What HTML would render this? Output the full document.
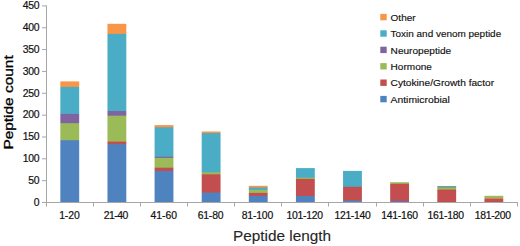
<!DOCTYPE html>
<html><head><meta charset="utf-8"><style>
html,body{margin:0;padding:0;background:#fff;}
svg{display:block;}
text{font-family:"Liberation Sans",sans-serif;}
.t{font-size:10.4px;fill:#111;stroke:#111;stroke-width:0.2px;}
.l{font-size:9.7px;fill:#111;stroke:#111;stroke-width:0.15px;}
.ti{font-size:14px;fill:#262626;stroke:#262626;stroke-width:0.1px;}
</style></head><body>
<svg width="520" height="246" viewBox="0 0 520 246">
<rect width="520" height="246" fill="#fff"/>
<defs><linearGradient id="g0" gradientUnits="userSpaceOnUse" x1="0" y1="81.40" x2="0" y2="202.00"><stop offset="0.00000" stop-color="#F79646"/><stop offset="0.04146" stop-color="#F79646"/><stop offset="0.04975" stop-color="#4BACC6"/><stop offset="0.26534" stop-color="#4BACC6"/><stop offset="0.27363" stop-color="#8064A2"/><stop offset="0.34245" stop-color="#8064A2"/><stop offset="0.35075" stop-color="#9BBB59"/><stop offset="0.48342" stop-color="#9BBB59"/><stop offset="0.49171" stop-color="#4F83BF"/><stop offset="1.00000" stop-color="#4F83BF"/></linearGradient><linearGradient id="g1" gradientUnits="userSpaceOnUse" x1="0" y1="23.80" x2="0" y2="202.00"><stop offset="0.00000" stop-color="#F79646"/><stop offset="0.05387" stop-color="#F79646"/><stop offset="0.05948" stop-color="#4BACC6"/><stop offset="0.48653" stop-color="#4BACC6"/><stop offset="0.49214" stop-color="#8064A2"/><stop offset="0.51291" stop-color="#8064A2"/><stop offset="0.51852" stop-color="#9BBB59"/><stop offset="0.65825" stop-color="#9BBB59"/><stop offset="0.66386" stop-color="#C34E4F"/><stop offset="0.67284" stop-color="#C34E4F"/><stop offset="0.67845" stop-color="#4F83BF"/><stop offset="1.00000" stop-color="#4F83BF"/></linearGradient><linearGradient id="g2" gradientUnits="userSpaceOnUse" x1="0" y1="125.10" x2="0" y2="202.00"><stop offset="0.00000" stop-color="#F79646"/><stop offset="0.02211" stop-color="#F79646"/><stop offset="0.03511" stop-color="#4BACC6"/><stop offset="0.40442" stop-color="#4BACC6"/><stop offset="0.41743" stop-color="#8064A2"/><stop offset="0.42003" stop-color="#8064A2"/><stop offset="0.43303" stop-color="#9BBB59"/><stop offset="0.54746" stop-color="#9BBB59"/><stop offset="0.56047" stop-color="#C34E4F"/><stop offset="0.59038" stop-color="#C34E4F"/><stop offset="0.60338" stop-color="#4F83BF"/><stop offset="1.00000" stop-color="#4F83BF"/></linearGradient><linearGradient id="g3" gradientUnits="userSpaceOnUse" x1="0" y1="131.50" x2="0" y2="202.00"><stop offset="0.00000" stop-color="#F79646"/><stop offset="0.01560" stop-color="#F79646"/><stop offset="0.02979" stop-color="#4BACC6"/><stop offset="0.57163" stop-color="#4BACC6"/><stop offset="0.58582" stop-color="#9BBB59"/><stop offset="0.60000" stop-color="#9BBB59"/><stop offset="0.61418" stop-color="#C34E4F"/><stop offset="0.85957" stop-color="#C34E4F"/><stop offset="0.87376" stop-color="#4F83BF"/><stop offset="1.00000" stop-color="#4F83BF"/></linearGradient><linearGradient id="g4" gradientUnits="userSpaceOnUse" x1="0" y1="185.80" x2="0" y2="202.00"><stop offset="0.00000" stop-color="#F79646"/><stop offset="0.07407" stop-color="#F79646"/><stop offset="0.13580" stop-color="#4BACC6"/><stop offset="0.22222" stop-color="#4BACC6"/><stop offset="0.28395" stop-color="#9BBB59"/><stop offset="0.40741" stop-color="#9BBB59"/><stop offset="0.46914" stop-color="#C34E4F"/><stop offset="0.59259" stop-color="#C34E4F"/><stop offset="0.65432" stop-color="#4F83BF"/><stop offset="1.00000" stop-color="#4F83BF"/></linearGradient><linearGradient id="g5" gradientUnits="userSpaceOnUse" x1="0" y1="168.10" x2="0" y2="202.00"><stop offset="0.00000" stop-color="#4BACC6"/><stop offset="0.26844" stop-color="#4BACC6"/><stop offset="0.29794" stop-color="#9BBB59"/><stop offset="0.30383" stop-color="#9BBB59"/><stop offset="0.33333" stop-color="#C34E4F"/><stop offset="0.80826" stop-color="#C34E4F"/><stop offset="0.83776" stop-color="#4F83BF"/><stop offset="1.00000" stop-color="#4F83BF"/></linearGradient><linearGradient id="g6" gradientUnits="userSpaceOnUse" x1="0" y1="170.90" x2="0" y2="202.00"><stop offset="0.00000" stop-color="#4BACC6"/><stop offset="0.49518" stop-color="#4BACC6"/><stop offset="0.52733" stop-color="#C34E4F"/><stop offset="0.93569" stop-color="#C34E4F"/><stop offset="0.96785" stop-color="#4F83BF"/><stop offset="1.00000" stop-color="#4F83BF"/></linearGradient><linearGradient id="g7" gradientUnits="userSpaceOnUse" x1="0" y1="182.20" x2="0" y2="202.00"><stop offset="0.00000" stop-color="#9BBB59"/><stop offset="0.05556" stop-color="#9BBB59"/><stop offset="0.10606" stop-color="#C34E4F"/><stop offset="0.90404" stop-color="#C34E4F"/><stop offset="0.95455" stop-color="#8064A2"/><stop offset="1.00000" stop-color="#8064A2"/></linearGradient><linearGradient id="g8" gradientUnits="userSpaceOnUse" x1="0" y1="186.00" x2="0" y2="202.00"><stop offset="0.00000" stop-color="#6FA096"/><stop offset="0.07812" stop-color="#6FA096"/><stop offset="0.14062" stop-color="#9BBB59"/><stop offset="0.19375" stop-color="#9BBB59"/><stop offset="0.25625" stop-color="#C34E4F"/><stop offset="1.00000" stop-color="#C34E4F"/></linearGradient><linearGradient id="g9" gradientUnits="userSpaceOnUse" x1="0" y1="195.80" x2="0" y2="202.00"><stop offset="0.00000" stop-color="#9BBB59"/><stop offset="0.25806" stop-color="#9BBB59"/><stop offset="0.41935" stop-color="#C98A5A"/><stop offset="0.43548" stop-color="#C98A5A"/><stop offset="0.59677" stop-color="#C34E4F"/><stop offset="1.00000" stop-color="#C34E4F"/></linearGradient></defs>
<rect x="60.34" y="81.40" width="18.85" height="120.60" fill="url(#g0)"/>
<rect x="107.46" y="23.80" width="18.85" height="178.20" fill="url(#g1)"/>
<rect x="154.58" y="125.10" width="18.85" height="76.90" fill="url(#g2)"/>
<rect x="201.70" y="131.50" width="18.85" height="70.50" fill="url(#g3)"/>
<rect x="248.82" y="185.80" width="18.85" height="16.20" fill="url(#g4)"/>
<rect x="295.94" y="168.10" width="18.85" height="33.90" fill="url(#g5)"/>
<rect x="343.06" y="170.90" width="18.85" height="31.10" fill="url(#g6)"/>
<rect x="390.18" y="182.20" width="18.85" height="19.80" fill="url(#g7)"/>
<rect x="437.30" y="186.00" width="18.85" height="16.00" fill="url(#g8)"/>
<rect x="484.42" y="195.80" width="18.85" height="6.20" fill="url(#g9)"/>
<line x1="46.5" y1="5.5" x2="46.5" y2="206" stroke="#a6a6a6" stroke-width="1"/>
<line x1="46" y1="202.5" x2="518" y2="202.5" stroke="#a6a6a6" stroke-width="1"/>
<line x1="42" y1="202.50" x2="46.5" y2="202.50" stroke="#a6a6a6" stroke-width="1"/>
<line x1="42" y1="180.66" x2="46.5" y2="180.66" stroke="#a6a6a6" stroke-width="1"/>
<line x1="42" y1="158.81" x2="46.5" y2="158.81" stroke="#a6a6a6" stroke-width="1"/>
<line x1="42" y1="136.97" x2="46.5" y2="136.97" stroke="#a6a6a6" stroke-width="1"/>
<line x1="42" y1="115.12" x2="46.5" y2="115.12" stroke="#a6a6a6" stroke-width="1"/>
<line x1="42" y1="93.28" x2="46.5" y2="93.28" stroke="#a6a6a6" stroke-width="1"/>
<line x1="42" y1="71.43" x2="46.5" y2="71.43" stroke="#a6a6a6" stroke-width="1"/>
<line x1="42" y1="49.59" x2="46.5" y2="49.59" stroke="#a6a6a6" stroke-width="1"/>
<line x1="42" y1="27.74" x2="46.5" y2="27.74" stroke="#a6a6a6" stroke-width="1"/>
<line x1="42" y1="5.90" x2="46.5" y2="5.90" stroke="#a6a6a6" stroke-width="1"/>
<line x1="46.50" y1="202.5" x2="46.50" y2="206.5" stroke="#a6a6a6" stroke-width="1"/>
<line x1="93.50" y1="202.5" x2="93.50" y2="206.5" stroke="#a6a6a6" stroke-width="1"/>
<line x1="140.50" y1="202.5" x2="140.50" y2="206.5" stroke="#a6a6a6" stroke-width="1"/>
<line x1="187.50" y1="202.5" x2="187.50" y2="206.5" stroke="#a6a6a6" stroke-width="1"/>
<line x1="234.50" y1="202.5" x2="234.50" y2="206.5" stroke="#a6a6a6" stroke-width="1"/>
<line x1="281.50" y1="202.5" x2="281.50" y2="206.5" stroke="#a6a6a6" stroke-width="1"/>
<line x1="328.50" y1="202.5" x2="328.50" y2="206.5" stroke="#a6a6a6" stroke-width="1"/>
<line x1="376.50" y1="202.5" x2="376.50" y2="206.5" stroke="#a6a6a6" stroke-width="1"/>
<line x1="423.50" y1="202.5" x2="423.50" y2="206.5" stroke="#a6a6a6" stroke-width="1"/>
<line x1="470.50" y1="202.5" x2="470.50" y2="206.5" stroke="#a6a6a6" stroke-width="1"/>
<line x1="517.50" y1="202.5" x2="517.50" y2="206.5" stroke="#a6a6a6" stroke-width="1"/>
<text x="39.4" y="205.80" text-anchor="end" class="t" letter-spacing="-0.25">0</text>
<text x="39.4" y="183.96" text-anchor="end" class="t" letter-spacing="-0.25">50</text>
<text x="39.4" y="162.11" text-anchor="end" class="t" letter-spacing="-0.25">100</text>
<text x="39.4" y="140.27" text-anchor="end" class="t" letter-spacing="-0.25">150</text>
<text x="39.4" y="118.42" text-anchor="end" class="t" letter-spacing="-0.25">200</text>
<text x="39.4" y="96.58" text-anchor="end" class="t" letter-spacing="-0.25">250</text>
<text x="39.4" y="74.73" text-anchor="end" class="t" letter-spacing="-0.25">300</text>
<text x="39.4" y="52.89" text-anchor="end" class="t" letter-spacing="-0.25">350</text>
<text x="39.4" y="31.04" text-anchor="end" class="t" letter-spacing="-0.25">400</text>
<text x="39.4" y="9.20" text-anchor="end" class="t" letter-spacing="-0.25">450</text>
<text x="59.19" y="219.3" class="t" textLength="20.50" lengthAdjust="spacing">1-20</text>
<text x="103.83" y="219.3" class="t" textLength="24.52" lengthAdjust="spacing">21-40</text>
<text x="150.51" y="219.3" class="t" textLength="26.45" lengthAdjust="spacing">41-60</text>
<text x="197.67" y="219.3" class="t" textLength="25.86" lengthAdjust="spacing">61-80</text>
<text x="241.75" y="219.3" class="t" textLength="31.46" lengthAdjust="spacing">81-100</text>
<text x="286.54" y="219.3" class="t" textLength="36.51" lengthAdjust="spacing">101-120</text>
<text x="334.48" y="219.3" class="t" textLength="36.19" lengthAdjust="spacing">121-140</text>
<text x="381.15" y="219.3" class="t" textLength="36.84" lengthAdjust="spacing">141-160</text>
<text x="427.53" y="219.3" class="t" textLength="36.62" lengthAdjust="spacing">161-180</text>
<text x="474.81" y="219.3" class="t" textLength="36.11" lengthAdjust="spacing">181-200</text>
<rect x="380.3" y="13.90" width="6.4" height="6.4" fill="#F79646"/>
<text x="390.6" y="20.80" class="l" textLength="25.0" lengthAdjust="spacingAndGlyphs">Other</text>
<rect x="380.3" y="30.30" width="6.4" height="6.4" fill="#4BACC6"/>
<text x="390.6" y="37.20" class="l" textLength="110.6" lengthAdjust="spacingAndGlyphs">Toxin and venom peptide</text>
<rect x="380.3" y="46.70" width="6.4" height="6.4" fill="#8064A2"/>
<text x="390.6" y="53.60" class="l" textLength="60.6" lengthAdjust="spacingAndGlyphs">Neuropeptide</text>
<rect x="380.3" y="63.10" width="6.4" height="6.4" fill="#9BBB59"/>
<text x="390.6" y="70.00" class="l" textLength="41.3" lengthAdjust="spacingAndGlyphs">Hormone</text>
<rect x="380.3" y="79.50" width="6.4" height="6.4" fill="#C34E4F"/>
<text x="390.6" y="86.40" class="l" textLength="103.5" lengthAdjust="spacingAndGlyphs">Cytokine/Growth factor</text>
<rect x="380.3" y="95.90" width="6.4" height="6.4" fill="#4F83BF"/>
<text x="390.6" y="102.80" class="l" textLength="59.2" lengthAdjust="spacingAndGlyphs">Antimicrobial</text>
<text x="232.9" y="241" class="ti" textLength="98.2" lengthAdjust="spacingAndGlyphs">Peptide length</text>
<text transform="translate(13.2,149.6) rotate(-90)" class="ti" textLength="94.3" lengthAdjust="spacingAndGlyphs" style="fill:#000;stroke:#000;stroke-width:0.3;font-size:13px">Peptide count</text>
</svg>
</body></html>
